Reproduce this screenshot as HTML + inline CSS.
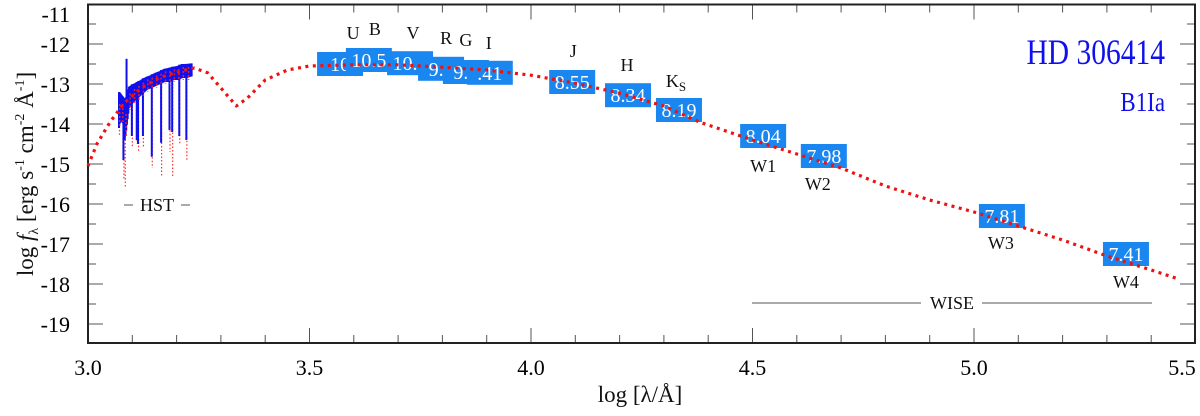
<!DOCTYPE html>
<html><head><meta charset="utf-8"><style>
html,body{margin:0;padding:0;background:#fff;}
svg, svg text{font-family:"Liberation Serif",serif;}
</style></head><body>
<svg id="chart" width="1200" height="411" viewBox="0 0 1200 411" xmlns="http://www.w3.org/2000/svg" font-family="Liberation Serif, serif">
<g id="grid"></g>
<g id="marks"></g>
<g id="ann"></g>
</svg>
<script>
// ---- data ----
const modelX = [3.0,3.02,3.05,3.08,3.12,3.16,3.2,3.24,3.27,3.3,3.335,3.36,3.4,3.45,3.5,3.6,3.7,3.8,3.9,4.0,4.1,4.2,4.3,4.38,4.5,4.6,4.7,4.8,4.9,5.0,5.1,5.2,5.3,5.4,5.463];
const modelY = [-15.05,-14.5,-13.95,-13.5,-13.1,-12.85,-12.7,-12.6,-12.72,-13.1,-13.55,-13.35,-12.9,-12.65,-12.55,-12.52,-12.52,-12.58,-12.65,-12.78,-12.98,-13.23,-13.55,-13.95,-14.4,-14.75,-15.1,-15.55,-15.9,-16.2,-16.55,-16.9,-17.3,-17.65,-17.88];
const specX   = [3.068,3.075,3.082,3.09,3.1,3.11,3.12,3.13,3.14,3.15,3.16,3.17,3.18,3.19,3.2,3.21,3.22,3.234];
const specTop = [-13.2,-13.3,-13.4,-13.07,-13.0,-12.95,-12.88,-12.82,-12.78,-12.72,-12.68,-12.62,-12.6,-12.57,-12.55,-12.5,-12.5,-12.48];
const specBot = [-14.0,-13.9,-14.3,-13.6,-13.45,-13.35,-13.25,-13.15,-13.1,-13.05,-13.0,-12.95,-12.95,-12.9,-12.9,-12.85,-12.85,-12.8];
const lineX   = [3.07,3.08,3.083,3.087,3.099,3.11,3.113,3.124,3.144,3.165,3.184,3.19,3.206,3.222];
const lineBlue= [-14.1,-14.9,-14.4,-12.37,-14.3,-14.4,-14.5,-14.3,-14.82,-14.47,-14.15,-14.2,-14.3,-14.4];
const lineRed = [-14.3,-15.4,-15.6,-13.0,-14.6,-14.5,-14.7,-14.6,-15.1,-15.3,-14.7,-15.3,-14.5,-14.9];
const photName = ["U","B","V","R","G","I","J","H","K","W1","W2","W3","W4"];
const photVal  = ["10","10.5","10.1","9.8","9.7",".41","8.55","8.34","8.19","8.04","7.98","7.81","7.41"];
const photX    = [3.569,3.634,3.727,3.797,3.853,3.907,4.093,4.219,4.334,4.524,4.661,5.063,5.343];
const photY    = [-12.5,-12.4,-12.48,-12.62,-12.7,-12.72,-12.95,-13.28,-13.65,-14.3,-14.8,-16.3,-17.25];
const xTicks = ["3.0","3.5","4.0","4.5","5.0","5.5"];
const yTicks = ["-11","-12","-13","-14","-15","-16","-17","-18","-19"];

// ---- axes ----
const L=88,R=1195,T=4.5,B=343;
const X=v=>L+(v-3.0)*443;
const Y=v=>44+(-12-v)*40;
const NS="http://www.w3.org/2000/svg";
function mk(tag,attrs,parent,text){const e=document.createElementNS(NS,tag);for(const k in attrs)e.setAttribute(k,attrs[k]);if(text!==undefined)e.textContent=text;parent.appendChild(e);return e;}
const grid=document.getElementById('grid'),marks=document.getElementById('marks'),ann=document.getElementById('ann');
function interp(xs,ys,v){for(let i=0;i<xs.length-1;i++){if(v<=xs[i+1]){const f=(v-xs[i])/(xs[i+1]-xs[i]);return ys[i]+(ys[i+1]-ys[i])*Math.max(0,f);}}return ys[ys.length-1];}

for(let i=0;i<=24;i++){const v=3.0+i*0.1;const x=X(v);if(x>R)break;const maj=i%5===0;
 const t1=mk('line',{x1:x,x2:x,y1:B,y2:B-(maj?15:8),stroke:'#555','stroke-width':1},grid);
 
 const t2=mk('line',{x1:x,x2:x,y1:T,y2:T+(maj?15:8),stroke:'#555','stroke-width':1},grid);
 }
xTicks.forEach((s)=>{let x=X(parseFloat(s));if(s==="5.5")x=1182;const t=mk('text',{x:x,y:375,'font-size':22,'text-anchor':'middle'},grid,s);
 });
for(let i=0;i<=17;i++){const v=-11-i*0.5;const y=Y(v);if(y>B)break;const maj=i%2===0;
 const t1=mk('line',{x1:L,x2:L+(maj?15:8),y1:y,y2:y,stroke:'#555','stroke-width':1},grid);
 
 const t2=mk('line',{x1:R,x2:R-(maj?15:8),y1:y,y2:y,stroke:'#555','stroke-width':1},grid);
 }
yTicks.forEach(s=>{let y=Y(parseFloat(s))+8;if(s==="-11")y=22;const t=mk('text',{x:70,y:y,'font-size':22,'text-anchor':'end'},grid,s);
 });
const frame=mk('rect',{x:L,y:T,width:R-L,height:B-T,fill:'none',stroke:'#222','stroke-width':2},grid);


// red model spectrum underneath-ish lines
const sr=mk('g',{},marks);
lineX.forEach((v,i)=>{mk('line',{x1:X(v)+0.5,x2:X(v)+0.5,y1:Y(interp(specX,specBot,v)),y2:Y(lineRed[i]),stroke:'#ff3030','stroke-width':1.2,'stroke-dasharray':'1.5 2'},sr);});
// blue observed
const sb=mk('g',{},marks);
for(let i=0;i<specX.length-1;i++){for(let k=0;k<5;k++){const f=k/5;const xv=specX[i]+(specX[i+1]-specX[i])*f;
 const tp=specTop[i]+(specTop[i+1]-specTop[i])*f, bt=specBot[i]+(specBot[i+1]-specBot[i])*f;
 mk('rect',{x:X(xv),y:Y(tp),width:2.2,height:Y(bt)-Y(tp),fill:'#1010ee'},sb);}}
lineX.forEach((v,i)=>{mk('line',{x1:X(v),x2:X(v),y1:Y(Math.max(lineBlue[i],interp(specX,specTop,v))),y2:Y(Math.min(lineBlue[i],interp(specX,specBot,v))),stroke:'#1010ee','stroke-width':2},sb);});
// red overlay dots on spectrum
const so=mk('g',{},marks);
for(let i=0;i<specX.length-1;i++){const xv=(specX[i]+specX[i+1])/2;
 const mid=(specTop[i]+specBot[i])/2;
 mk('line',{x1:X(xv),x2:X(xv),y1:Y(mid+0.1),y2:Y(specBot[i]-0.05),stroke:'#ff2020','stroke-width':1.5,'stroke-dasharray':'2 2',opacity:0.85},so);}

// photometry boxes
const pb=mk('g',{},marks);
const lblOff={U:[13,-31],B:[6,-31],V:[3,-30],R:[5,-31],G:[0,-32],I:[-1,-30],J:[1,-31],H:[-1,-30],K:[-3,-29],W1:[0,30],W2:[-6,28],W3:[-1,27],W4:[0,28]};
photX.forEach((v,i)=>{const cx=X(v),cy=Y(photY[i]);
 const r=mk('rect',{x:cx-23,y:cy-12,width:46,height:24,fill:'#1a86f0'},pb);
 
 const t=mk('text',{x:cx,y:cy+7,'font-size':20,fill:'#fff','text-anchor':'middle'},pb,photVal[i]);
 
 const o=lblOff[photName[i]];
 const n=mk('text',{x:cx+o[0],y:cy+o[1]+6,'font-size':18,fill:'#111','text-anchor':'middle'},ann,photName[i]);
 
 if(photName[i]==='K'){mk('tspan',{'font-size':13,dy:4},n,'S');}
});

// model dotted curve on top
let d='';modelX.forEach((v,i)=>{d+=(i?'L':'M')+X(v).toFixed(1)+','+Y(modelY[i]).toFixed(1);});
const mc=mk('path',{d:d,fill:'none',stroke:'#ee1111','stroke-width':3.2,'stroke-dasharray':'3 4.5','stroke-linejoin':'round'},marks);

</script>
<script>
const svg=document.getElementById('chart');const NS2="http://www.w3.org/2000/svg";
function add(tag,attrs,text){const e=document.createElementNS(NS2,tag);for(const k in attrs)e.setAttribute(k,attrs[k]);if(text!==undefined)e.innerHTML=text;svg.appendChild(e);return e;}
let e;
e=add('text',{x:1165,y:64,'font-size':36,fill:'#1010ee','text-anchor':'end',transform:'translate(1165,0) scale(0.82,1) translate(-1165,0)'},'HD 306414');

e=add('text',{x:1165,y:111,'font-size':27,fill:'#1010ee','text-anchor':'end',transform:'translate(1165,0) scale(0.85,1) translate(-1165,0)'},'B1Ia');

e=add('text',{x:157,y:211,'font-size':18,'text-anchor':'middle',fill:'#111'},'HST');

e=add('line',{x1:124,x2:133,y1:205,y2:205,stroke:'#555'});
e=add('line',{x1:181,x2:190,y1:205,y2:205,stroke:'#555'});
e=add('line',{x1:752,x2:921,y1:303,y2:303,stroke:'#555'});
e=add('line',{x1:982,x2:1152,y1:303,y2:303,stroke:'#555'});
e=add('text',{x:952,y:309,'font-size':18,'text-anchor':'middle',fill:'#111'},'WISE');

e=add('text',{x:640,y:402,'font-size':23,'text-anchor':'middle',fill:'#111'},'log [λ/Å]');

e=add('text',{x:0,y:0,'font-size':23,'text-anchor':'middle',fill:'#111',transform:'translate(33,174) rotate(-90)'},'log <tspan font-style="italic">f</tspan><tspan font-size="14" dy="5">λ</tspan><tspan dy="-5"> [erg s</tspan><tspan font-size="14" dy="-9">-1</tspan><tspan dy="9"> cm</tspan><tspan font-size="14" dy="-9">-2</tspan><tspan dy="9"> Å</tspan><tspan font-size="14" dy="-9">-1</tspan><tspan dy="9">]</tspan>');

</script>
</body></html>
